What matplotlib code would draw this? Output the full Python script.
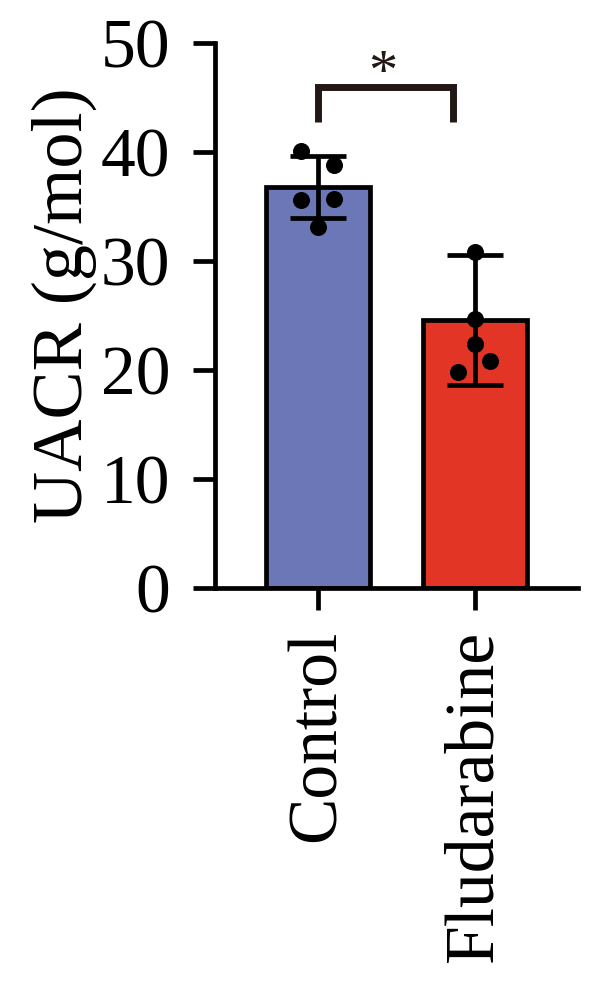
import matplotlib
matplotlib.use('Agg')
import matplotlib.pyplot as plt

plt.rcParams['font.family'] = ['Liberation Serif', 'DejaVu Serif']

# data
groups = ['Control', 'Fludarabine']
means = [36.8, 24.6]
sd = [2.85, 5.95]
ctrl_pts = [40.1, 38.8, 35.6, 35.7, 33.1]
flud_pts = [30.8, 24.7, 22.4, 20.8, 19.8]
yticks = [0, 10, 20, 30, 40, 50]

colors = ['#6B77B6', '#E23526']
lw = 3.4

fig = plt.figure(figsize=(6, 9.84), dpi=100)
ax = fig.add_axes([0.358, 0.4024, 0.605, 0.5536])

x = list(range(len(groups)))
ax.bar(x, means, width=0.66, color=colors, edgecolor='black', linewidth=lw, zorder=2)
ax.errorbar(x, means, yerr=sd, fmt='none', ecolor='black', elinewidth=lw,
            capsize=20, capthick=lw, zorder=3)

# jitter of the dots (layout only)
ctrl_dx = [-0.11, 0.10, -0.11, 0.10, 0.0]
flud_dx = [0.0, 0.0, 0.0, 0.095, -0.11]
for xi, pts, dx in [(0, ctrl_pts, ctrl_dx), (1, flud_pts, flud_dx)]:
    ax.scatter([xi + d for d in dx], pts, s=150, color='black', zorder=4, linewidths=0)

# significance bracket
ax.plot([0, 0, 0.86, 0.86], [42.8, 46.0, 46.0, 42.8], color='#231815',
        linewidth=5, solid_joinstyle='miter', solid_capstyle='butt', zorder=3)
ax.text(0.413, 45.8, '*', ha='center', va='baseline', fontsize=42, color='#231815')

ax.set_xlim(-0.659, 1.657)
ax.set_ylim(0, 50)
ax.set_yticks(yticks)
ax.set_xticks(x)
ax.set_xticklabels(groups, rotation=90, fontsize=50)
ax.tick_params(axis='y', labelsize=50, length=16, width=lw, pad=16)
ax.tick_params(axis='x', length=16, width=lw, pad=14)
ax.set_ylabel('UACR (g/mol)', fontsize=52)
ax.yaxis.set_label_coords(-0.325, 0.52)

for s in ['top', 'right']:
    ax.spines[s].set_visible(False)
for s in ['left', 'bottom']:
    ax.spines[s].set_linewidth(lw)

fig.savefig('out.png', dpi=100)
